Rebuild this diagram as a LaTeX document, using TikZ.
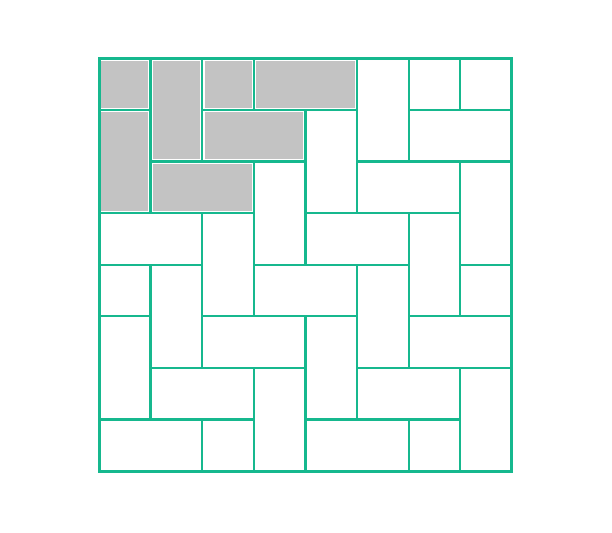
\documentclass[tikz,border=0pt]{standalone}
\usepackage{tikz}
\definecolor{tilegreen}{RGB}{22,184,142}
\definecolor{tilegray}{RGB}{195,195,195}
\begin{document}
\begin{tikzpicture}[x=1cm,y=1cm,
  tile/.style={draw=tilegreen,line width=1.3pt},
  graytile/.style={fill=tilegray,draw=white,line width=2.6pt}]
\useasboundingbox (-1.92,-1.18) rectangle (9.94,9.13);
% shaded tiles
\fill[graytile] (0,8) rectangle (1,7);
\fill[graytile] (1,8) rectangle (2,6);
\fill[graytile] (2,8) rectangle (3,7);
\fill[graytile] (3,8) rectangle (5,7);
\fill[graytile] (0,7) rectangle (1,5);
\fill[graytile] (2,7) rectangle (4,6);
\fill[graytile] (1,6) rectangle (3,5);
\draw[graytile,fill=none] (0,8) rectangle (1,7);
\draw[graytile,fill=none] (1,8) rectangle (2,6);
\draw[graytile,fill=none] (2,8) rectangle (3,7);
\draw[graytile,fill=none] (3,8) rectangle (5,7);
\draw[graytile,fill=none] (0,7) rectangle (1,5);
\draw[graytile,fill=none] (2,7) rectangle (4,6);
\draw[graytile,fill=none] (1,6) rectangle (3,5);
% outlines, row by row
\draw[tile] (0,8) rectangle (1,7);
\draw[tile] (1,8) rectangle (2,6);
\draw[tile] (2,8) rectangle (3,7);
\draw[tile] (3,8) rectangle (5,7);
\draw[tile] (5,8) rectangle (6,6);
\draw[tile] (6,8) rectangle (7,7);
\draw[tile] (7,8) rectangle (8,7);
\draw[tile] (0,7) rectangle (1,5);
\draw[tile] (2,7) rectangle (4,6);
\draw[tile] (4,7) rectangle (5,5);
\draw[tile] (6,7) rectangle (8,6);
\draw[tile] (1,6) rectangle (3,5);
\draw[tile] (3,6) rectangle (4,4);
\draw[tile] (5,6) rectangle (7,5);
\draw[tile] (7,6) rectangle (8,4);
\draw[tile] (0,5) rectangle (2,4);
\draw[tile] (2,5) rectangle (3,3);
\draw[tile] (4,5) rectangle (6,4);
\draw[tile] (6,5) rectangle (7,3);
\draw[tile] (0,4) rectangle (1,3);
\draw[tile] (1,4) rectangle (2,2);
\draw[tile] (3,4) rectangle (5,3);
\draw[tile] (5,4) rectangle (6,2);
\draw[tile] (7,4) rectangle (8,3);
\draw[tile] (0,3) rectangle (1,1);
\draw[tile] (2,3) rectangle (4,2);
\draw[tile] (4,3) rectangle (5,1);
\draw[tile] (6,3) rectangle (8,2);
\draw[tile] (1,2) rectangle (3,1);
\draw[tile] (3,2) rectangle (4,0);
\draw[tile] (5,2) rectangle (7,1);
\draw[tile] (7,2) rectangle (8,0);
\draw[tile] (0,1) rectangle (2,0);
\draw[tile] (2,1) rectangle (3,0);
\draw[tile] (4,1) rectangle (6,0);
\draw[tile] (6,1) rectangle (7,0);
% frame
\draw[tile,line width=1.6pt] (0,0) rectangle (8,8);
\end{tikzpicture}
\end{document}
